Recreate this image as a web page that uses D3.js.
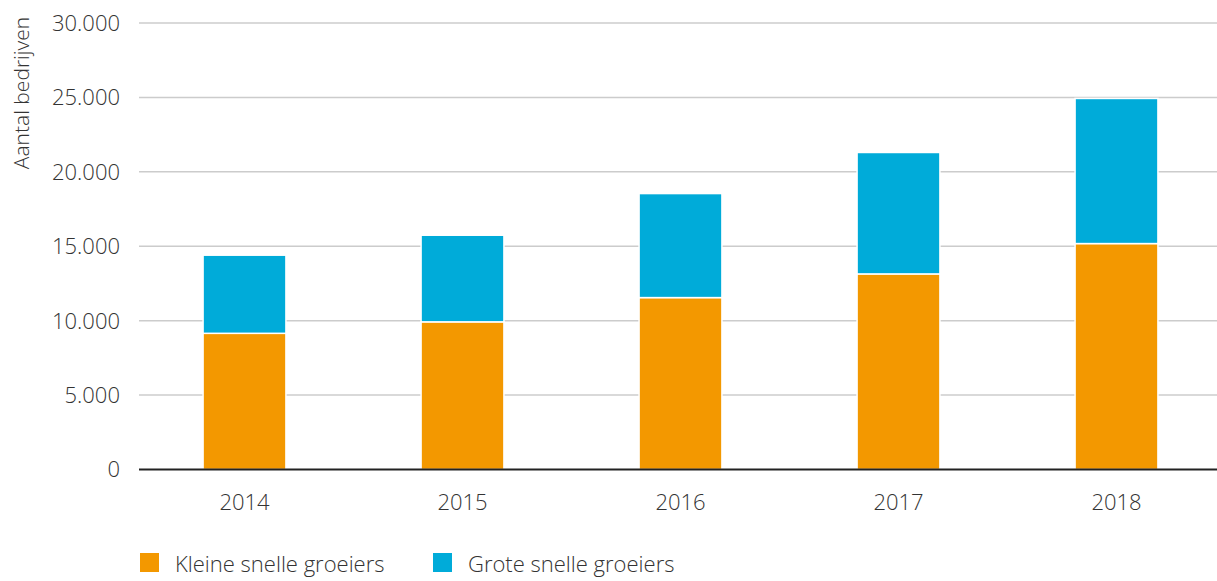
<!DOCTYPE html>
<html>
<head>
<meta charset="utf-8">
<script src="https://cdn.jsdelivr.net/npm/d3@7"></script>
<style>
  html, body { margin: 0; padding: 0; background: #fff; }
  svg { display: block; font-family: "Open Sans", sans-serif; font-weight: 300; }
</style>
</head>
<body>
<svg id="chart" width="1217" height="581"></svg>
<script>
const years = ["2014", "2015", "2016", "2017", "2018"];
const kleine = [9150, 9920, 11550, 13140, 15180];
const grote = [5250, 5820, 6990, 8160, 9750];
const yTicks = [0, 5000, 10000, 15000, 20000, 25000, 30000];
const seriesNames = ["Kleine snelle groeiers", "Grote snelle groeiers"];
const seriesColors = ["#F39800", "#00ABD9"];
const yTitle = "Aantal bedrijven";

const svg = d3.select("#chart");
const textColor = "#333";

const x = d3.scaleBand().domain(years).range([135.5, 1225.5]).paddingInner(0.62).paddingOuter(0.31);
const y = d3.scaleLinear().domain([0, 30000]).range([469.5, 23]);

const fmt = v => d3.format(",")(v).replace(/,/g, ".");

// gridlines
svg.append("g").selectAll("line").data(yTicks.filter(d => d > 0)).join("line")
  .attr("x1", 139).attr("x2", 1217)
  .attr("y1", d => y(d)).attr("y2", d => y(d))
  .attr("stroke", "#cccccc").attr("stroke-width", 1.5);

// y tick labels
svg.append("g").selectAll("text").data(yTicks).join("text")
  .attr("x", 120).attr("y", d => y(d))
  .attr("dy", "0.36em")
  .attr("text-anchor", "end")
  .attr("font-size", 22).attr("fill", textColor)
  .text(fmt);

// y title
svg.append("text")
  .attr("transform", "translate(29,93) rotate(-90)")
  .attr("text-anchor", "middle")
  .attr("font-size", 21).attr("fill", textColor)
  .text(yTitle);

// stacked data
const data = years.map((yr, i) => ({ year: yr, k: kleine[i], g: grote[i] }));
const stack = d3.stack().keys(["k", "g"])(data);

svg.append("g").selectAll("g").data(stack).join("g")
  .attr("fill", (d, i) => seriesColors[i])
  .selectAll("rect").data(d => d).join("rect")
  .attr("x", d => x(d.data.year))
  .attr("width", x.bandwidth())
  .attr("y", d => y(d[1]))
  .attr("height", d => y(d[0]) - y(d[1]))
  .attr("stroke", "#fff").attr("stroke-width", 1.5);

// x axis line
svg.append("line")
  .attr("x1", 139).attr("x2", 1217)
  .attr("y1", y(0)).attr("y2", y(0))
  .attr("stroke", "#222").attr("stroke-width", 2);

// x labels
svg.append("g").selectAll("text").data(years).join("text")
  .attr("x", d => x(d) + x.bandwidth() / 2)
  .attr("y", 510)
  .attr("text-anchor", "middle")
  .attr("font-size", 22).attr("fill", textColor)
  .text(d => d);

// legend
const legendX = [140, 433];
const lg = svg.append("g").selectAll("g").data(seriesNames).join("g")
  .attr("transform", (d, i) => `translate(${legendX[i]},553)`);
lg.append("rect").attr("width", 19).attr("height", 19).attr("fill", (d, i) => seriesColors[i]);
lg.append("text").attr("x", 35).attr("y", 19)
  .attr("font-size", 22).attr("fill", textColor)
  .text(d => d);
</script>
</body>
</html>
